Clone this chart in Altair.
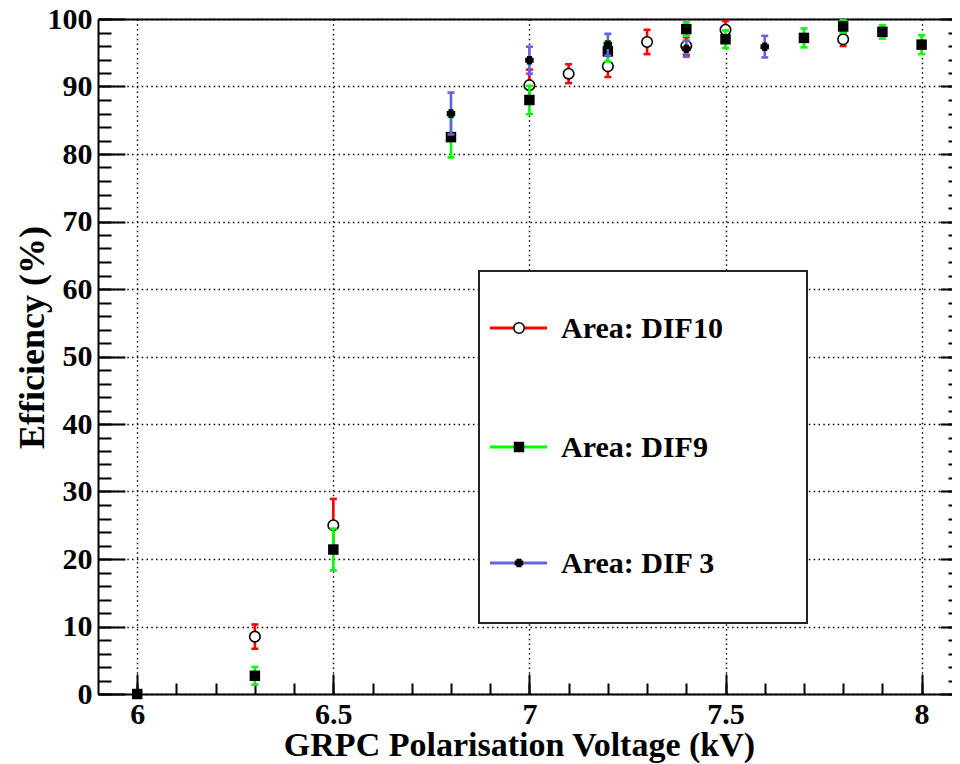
import altair as alt
import pandas as pd

# ---------------- data ----------------
volts_dif10 = [6.3, 6.5, 7.0, 7.1, 7.2, 7.3, 7.4, 7.5, 7.8]
eff_dif10 = [8.5, 25.0, 90.2, 91.9, 93.0, 96.6, 96.0, 98.4, 97.0]
err_dif10 = [1.8, 3.9, 2.3, 1.4, 1.6, 1.8, 1.3, 1.3, 1.0]

volts_dif9 = [6.0, 6.3, 6.5, 6.8, 7.0, 7.2, 7.4, 7.5, 7.7, 7.8, 7.9, 8.0]
eff_dif9 = [0.0, 2.7, 21.4, 82.5, 88.0, 95.2, 98.5, 97.0, 97.2, 98.9, 98.1, 96.2]
err_dif9 = [0.0, 1.3, 3.1, 3.0, 2.1, 1.5, 1.0, 1.3, 1.4, 0.9, 1.0, 1.4]

volts_dif3 = [6.0, 6.8, 7.0, 7.2, 7.4, 7.6]
eff_dif3 = [0.0, 86.0, 93.9, 96.2, 95.6, 95.9]
err_dif3 = [0.0, 3.1, 2.0, 1.6, 1.2, 1.6]

series_names = ["Area: DIF10", "Area: DIF9", "Area: DIF 3"]
series_colors = ["#ff0000", "#00ff00", "#6262e2"]

x_major_ticks = [6.0, 6.5, 7.0, 7.5, 8.0]
x_minor_ticks = [6.0, 6.1, 6.2, 6.3, 6.4, 6.5, 6.6, 6.7, 6.8, 6.9, 7.0,
                 7.1, 7.2, 7.3, 7.4, 7.5, 7.6, 7.7, 7.8, 7.9, 8.0]
y_major_ticks = [0, 10, 20, 30, 40, 50, 60, 70, 80, 90, 100]
y_minor_ticks = [0, 2, 4, 6, 8, 10, 12, 14, 16, 18, 20, 22, 24, 26, 28, 30,
                 32, 34, 36, 38, 40, 42, 44, 46, 48, 50, 52, 54, 56, 58, 60,
                 62, 64, 66, 68, 70, 72, 74, 76, 78, 80, 82, 84, 86, 88, 90,
                 92, 94, 96, 98, 100]
x_title = "GRPC Polarisation Voltage (kV)"
y_title = "Efficiency (%)"

# ---------------- helpers ----------------
FONT = "Liberation Serif"
W, H = 854, 675
xs = alt.Scale(domain=[5.9, 8.0775], nice=False, zero=False)
ys = alt.Scale(domain=[0, 100], nice=False, zero=False)


def frame(name, v, e, err):
    return pd.DataFrame({
        "series": name, "v": v, "eff": e, "err": err,
        "lo": [a - b for a, b in zip(e, err)],
        "hi": [a + b for a, b in zip(e, err)],
    })


dfs = [frame(series_names[0], volts_dif10, eff_dif10, err_dif10),
       frame(series_names[1], volts_dif9, eff_dif9, err_dif9),
       frame(series_names[2], volts_dif3, eff_dif3, err_dif3)]
all_df = pd.concat(dfs, ignore_index=True)


def ax(**kw):
    base = dict(title=None, labels=False, ticks=False, domain=False, grid=False)
    base.update(kw)
    return alt.Axis(**base)


lab = dict(labels=True, labelFont=FONT, labelFontWeight="bold",
           labelColor="black", labelFlush=False, labelOverlap=False)
tk = dict(ticks=True, tickColor="black", tickWidth=2)
grid = dict(grid=True, gridColor="black", gridDash=[1.5, 3.3], gridWidth=1.4)
dom = dict(domain=True, domainColor="black", domainWidth=2)

x_major_axis = ax(orient="bottom", values=x_major_ticks, tickSize=20, offset=-20,
                  format="~g", labelPadding=5, labelFontSize=30, **tk, **lab)
x_minor_axis = ax(orient="bottom", values=x_minor_ticks, tickSize=11, offset=-11, **tk)
x_frame_axis = ax(orient="bottom", values=x_major_ticks, **grid, **dom,
                  title=x_title, titleFont=FONT, titleFontSize=34, titleFontWeight="bold",
                  titleColor="black", titleX=421, titleY=61, titleAlign="center",
                  titleBaseline="alphabetic")
x_top_axis = ax(orient="top", **dom)

y_major_axis = ax(orient="left", values=y_major_ticks, tickSize=27, offset=-27,
                  format="d", labelPadding=6, labelFontSize=30, **tk, **lab)
y_minor_axis = ax(orient="left", values=y_minor_ticks, tickSize=13, offset=-13, **tk)
y_frame_axis = ax(orient="left", values=y_major_ticks, **grid, **dom,
                  title=y_title, titleFont=FONT, titleFontSize=36, titleFontWeight="bold",
                  titleColor="black", titleX=-55, titleY=318, titleAngle=270,
                  titleAlign="center", titleBaseline="alphabetic")
y_right_major = ax(orient="right", values=y_major_ticks, tickSize=12, offset=-12, **tk)
y_right_minor = ax(orient="right", values=y_minor_ticks, tickSize=4, offset=-4, **tk)

base = alt.Chart(all_df)
axis_layers = [
    base.mark_point(opacity=0).encode(
        x=alt.X("v:Q", scale=xs, axis=x_major_axis),
        y=alt.Y("eff:Q", scale=ys, axis=y_major_axis)),
    base.mark_point(opacity=0).encode(
        x=alt.X("v:Q", scale=xs, axis=x_minor_axis),
        y=alt.Y("eff:Q", scale=ys, axis=y_minor_axis)),
    base.mark_point(opacity=0).encode(
        x=alt.X("v:Q", scale=xs, axis=x_frame_axis),
        y=alt.Y("eff:Q", scale=ys, axis=y_frame_axis)),
    base.mark_point(opacity=0).encode(
        x=alt.X("v:Q", scale=xs, axis=x_top_axis),
        y=alt.Y("eff:Q", scale=ys, axis=y_right_major)),
    base.mark_point(opacity=0).encode(
        x=alt.X("v:Q", scale=xs, axis=None),
        y=alt.Y("eff:Q", scale=ys, axis=y_right_minor)),
]

BLOB = ("M-0.6,-1L0.6,-1L0.6,-0.6L1,-0.6L1,0.6L0.6,0.6L0.6,1L-0.6,1"
        "L-0.6,0.6L-1,0.6L-1,-0.6L-0.6,-0.6Z")
marker_styles = [
    dict(shape="circle", filled=True, fill="white", stroke="black", strokeWidth=1.6,
         size=110, opacity=1),
    dict(shape="square", filled=True, color="black", size=110, opacity=1),
    dict(shape=BLOB, filled=True, color="black", size=72, opacity=1),
]

series_layers = []
for df, col, ms in zip(dfs, series_colors, marker_styles):
    dfe = df[df["err"] > 0]
    X = alt.X("v:Q", scale=xs, axis=None)
    series_layers.append(alt.Chart(dfe).mark_rule(color=col, strokeWidth=2.6).encode(
        x=X, y=alt.Y("lo:Q", scale=ys, axis=None), y2="hi:Q"))
    for f in ["lo", "hi"]:
        series_layers.append(alt.Chart(dfe).mark_tick(
            color=col, orient="horizontal", size=7, thickness=2.6, opacity=1).encode(
            x=X, y=alt.Y(f"{f}:Q", scale=ys, axis=None)))
    series_layers.append(alt.Chart(df).mark_point(**ms).encode(
        x=X, y=alt.Y("eff:Q", scale=ys, axis=None)))

# ---------------- legend (ROOT TLegend style box) ----------------
one = pd.DataFrame({"k": [0]})
legend_layers = [alt.Chart(one).mark_rect(fill="white", stroke="#222222", strokeWidth=2).encode(
    x=alt.value(381), x2=alt.value(709), y=alt.value(252), y2=alt.value(604))]
legend_rows = [309, 428, 544]
for name, col, ms, ly in zip(series_names, series_colors, marker_styles, legend_rows):
    legend_layers.append(alt.Chart(one).mark_rule(color=col, strokeWidth=3).encode(
        x=alt.value(392), x2=alt.value(449), y=alt.value(ly)))
    legend_layers.append(alt.Chart(one).mark_point(**ms).encode(
        x=alt.value(421), y=alt.value(ly)))
    legend_layers.append(alt.Chart(one).mark_text(
        align="left", baseline="middle", font=FONT, fontSize=30, fontWeight="bold",
        color="black").encode(x=alt.value(463), y=alt.value(ly + 1), text=alt.value(name)))

chart = alt.layer(*axis_layers, *series_layers, *legend_layers).resolve_axis(
    x="independent", y="independent"
).properties(
    width=W, height=H,
    autosize=alt.AutoSizeParams(type="none"),
    padding={"left": 90, "top": 11, "right": 0, "bottom": 70},
    background="white",
).configure_view(stroke="transparent")

chart.save("out.html", embed_options={"renderer": "svg", "actions": False})
